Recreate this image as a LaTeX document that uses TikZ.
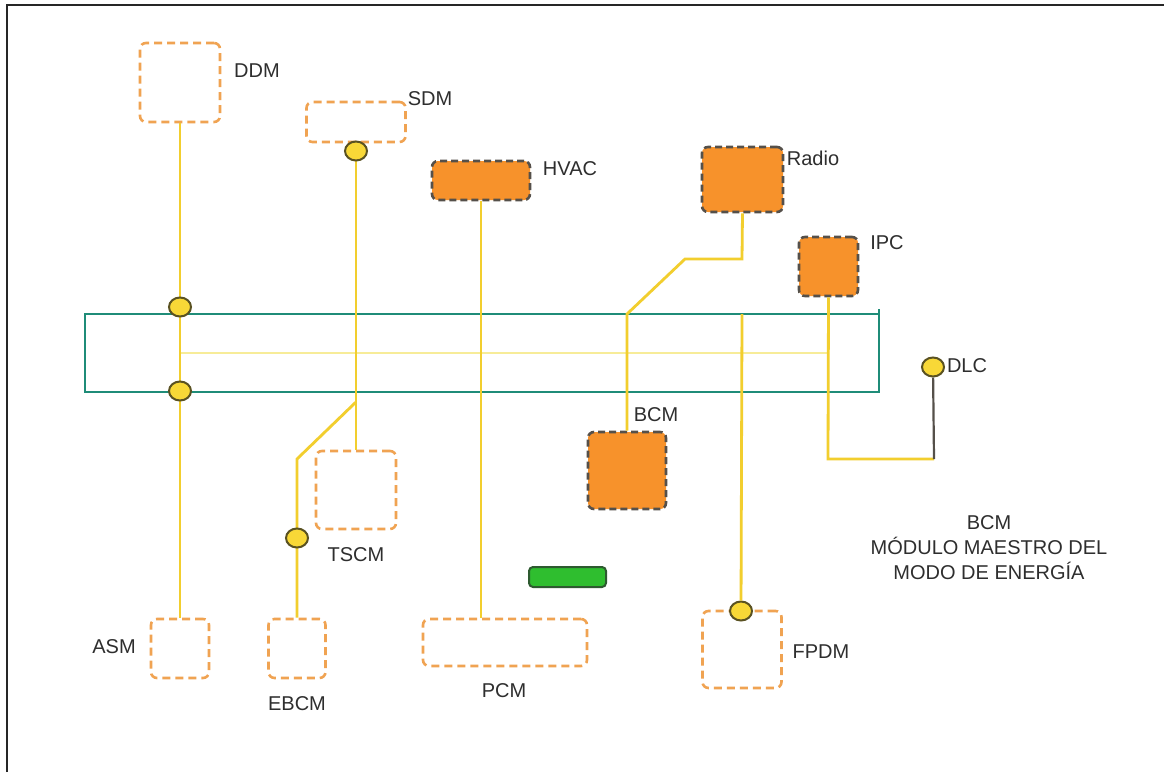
\documentclass[tikz,border=0pt]{standalone}
\usepackage{fontspec}
\setmainfont{Liberation Sans}
\usetikzlibrary{shapes.geometric}
\definecolor{orL}{HTML}{F0A352}
\definecolor{orF}{HTML}{F7922B}
\definecolor{dk}{HTML}{55504A}
\definecolor{yl}{HTML}{F2CE2E}
\definecolor{ylL}{HTML}{F7EC98}
\definecolor{jf}{HTML}{F8D837}
\definecolor{jb}{HTML}{5A5222}
\definecolor{teal}{HTML}{1F8C78}
\definecolor{gf}{HTML}{2FBE2F}
\definecolor{gb}{HTML}{2E5A30}
\definecolor{tx}{HTML}{2E2E2E}
\begin{document}
\begin{tikzpicture}[x=1pt,y=-1pt,
  lbl/.style={font=\fontsize{20}{24}\selectfont, text=tx, inner sep=0pt},
  obox/.style={draw=orL, line width=2.6pt, dash pattern=on 8pt off 5pt, rounded corners=6pt, inner sep=0pt, rectangle},
  fbox/.style={draw=dk, fill=orF, line width=2.6pt, dash pattern=on 7pt off 4pt, rounded corners=6pt, inner sep=0pt, rectangle},
  wire/.style={draw=yl, line width=2.8pt},
  jn/.style={ellipse, draw=jb, fill=jf, line width=2pt, minimum width=22pt, minimum height=19pt, inner sep=0pt}]
\useasboundingbox (0,0) rectangle (1164,772);
\fill[white] (0,0) rectangle (1164,772);
% outer border
\draw[line width=2.5pt, draw=black!85] (7,772) -- (7,5) -- (1164,5);
% bus
\node[draw=teal, line width=2.8pt, rectangle, inner sep=0pt, outer sep=0pt, minimum width=794pt, minimum height=78pt] (bus) at (482,353) {};
\coordinate (busre) at (879,309);
\draw[draw=teal, line width=2.8pt] (busre) -- (bus.south east);
% boxes
\node[obox, minimum width=80pt, minimum height=79pt] (ddm) at (180,82.5) {};
\node[obox, minimum width=99pt, minimum height=40pt] (sdm) at (356,122) {};
\node[fbox, minimum width=98pt, minimum height=39pt] (hvac) at (481,180.5) {};
\node[fbox, minimum width=81pt, minimum height=65pt] (radio) at (742.5,179.5) {};
\node[fbox, minimum width=59pt, minimum height=59pt] (ipc) at (828.5,266.5) {};
\node[fbox, minimum width=78pt, minimum height=77pt] (bcm) at (627,470.5) {};
\node[obox, minimum width=80pt, minimum height=78pt] (tscm) at (356,490) {};
\node[obox, minimum width=58pt, minimum height=59pt] (asm) at (180,648.5) {};
\node[obox, minimum width=57pt, minimum height=59pt] (ebcm) at (297,648.5) {};
\node[obox, minimum width=164pt, minimum height=47pt] (pcm) at (505,642.5) {};
\node[obox, minimum width=79pt, minimum height=77pt] (fpdm) at (742,649.5) {};
\node[draw=gb, fill=gf, line width=2pt, rounded corners=4pt, rectangle, inner sep=0pt, minimum width=77pt, minimum height=20pt] (green) at (567.5,577) {};
% junction positions
\coordinate (c1p) at (180,307);
\coordinate (c2p) at (180,391);
% wires
\draw[draw=ylL, line width=2.6pt] (c1p |- bus.center) -- (ipc.south |- bus.center);
\draw[wire] (ddm.south) -- (asm.north);
\draw[wire] (sdm.south) -- (tscm.north);
\coordinate (br1) at (356,402);
\coordinate (br2) at (297,459);
\draw[wire] (br1) -- (br2) -- (ebcm.north);
\draw[wire] (hvac.south) -- (hvac.south |- pcm.north);
\coordinate (r1) at (742,259);
\coordinate (r2) at (685,259);
\coordinate (r3) at (627,314);
\draw[wire] (radio.south) -- (r1) -- (r2) -- (r3) -- (bcm.north);
\coordinate (fp1) at (742,314);
\coordinate (ip1) at (828,459);
\coordinate (ip2) at (934,459);
\draw[wire] (ipc.south) -- (ip1) -- (ip2);
% junction nodes
\node[jn] (c1) at (c1p) {};
\node[jn] (c2) at (c2p) {};
\node[jn] (csdm) at (356,151) {};
\node[jn] (cebcm) at (297,538) {};
\node[jn] (cfpdm) at (741,611) {};
\node[jn] (cdlc) at (933,367) {};
\draw[wire] (fp1) -- (cfpdm);
\draw[draw=dk, line width=2.2pt] (ip2) -- (cdlc);
% labels
\node[lbl] (lddm) at (257,71) {DDM};
\node[lbl] (lsdm) at (430,99) {SDM};
\node[lbl] (lhvac) at (570,169) {HVAC};
\node[lbl] (lradio) at (813,158) {Radio};
\node[lbl] (lipc) at (887,243) {IPC};
\node[lbl] (ldlc) at (967,366) {DLC};
\node[lbl] (lbcm) at (656,415) {BCM};
\node[lbl] (ltscm) at (356,555) {TSCM};
\node[lbl] (lasm) at (114,647) {ASM};
\node[lbl] (lebcm) at (297,704) {EBCM};
\node[lbl] (lpcm) at (504,691) {PCM};
\node[lbl] (lfpdm) at (821,652) {FPDM};
\node[lbl, align=center, font=\fontsize{20}{25}\selectfont] (note) at (989,548) {BCM\\MÓDULO MAESTRO DEL\\MODO DE ENERGÍA};
\end{tikzpicture}
\end{document}
